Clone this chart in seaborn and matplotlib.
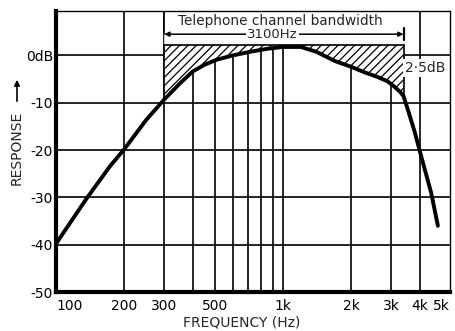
import matplotlib
matplotlib.use("Agg")
import matplotlib.pyplot as plt
import numpy as np
import pandas as pd
import seaborn as sns

# Frequency response of a telephone-type channel
freq_hz = [100, 137, 173, 200, 250, 300, 350, 400, 450, 510, 600, 720, 850,
           1000, 1200, 1400, 1700, 2000, 2300, 2600, 2900, 3100, 3300, 3400,
           3550, 3800, 4100, 4500, 4820]
response_db = [-39.8, -30.1, -23.4, -19.8, -13.6, -9.3, -6.0, -3.4, -2.0, -0.9,
               0.0, 0.8, 1.4, 1.8, 1.8, 0.8, -1.2, -2.4, -3.6, -4.5, -5.5, -6.6,
               -7.8, -8.6, -11.4, -16.0, -21.9, -29.0, -36.0]

x_tick_values = [100, 200, 300, 500, 1000, 2000, 3000, 4000, 5000]
x_tick_labels = ["100", "200", "300", "500", "1k", "2k", "3k", "4k", "5k"]
x_grid_values = [200, 300, 400, 500, 600, 700, 800, 900, 1000, 2000, 3000, 4000]
y_tick_values = [0, -10, -20, -30, -40, -50]
y_tick_labels = ["0dB", "-10", "-20", "-30", "-40", "-50"]
y_grid_values = [0, -10, -20, -30, -40]

band_low_hz = 300
band_high_hz = 3400
band_top_db = 2.25
band_label = "Telephone channel bandwidth"
band_width_label = "3100Hz"
ripple_label = "2·5dB"

sns.set_style("white")
plt.rcParams["font.family"] = ["DejaVu Sans"]
plt.rcParams["hatch.linewidth"] = 0.9

fig = plt.figure(figsize=(4.55, 3.31), dpi=100)
ax = fig.add_axes([56 / 455, 39 / 331, 394 / 455, 281 / 331])
ax.set_xscale("log")
ax.set_xlim(100, 5450)
ax.set_ylim(-50, 9.4)

# grid; the 0 dB line stops at the edges of the channel band
for gx in x_grid_values:
    ax.axvline(gx, color="black", lw=1.2, zorder=0.5)
for gy in y_grid_values:
    if gy == 0:
        ax.plot([100, band_low_hz], [gy, gy], color="black", lw=1.2, zorder=0.5)
        ax.plot([band_high_hz, 5450], [gy, gy], color="black", lw=1.2, zorder=0.5)
    else:
        ax.axhline(gy, color="black", lw=1.2, zorder=0.5)

df = pd.DataFrame({"freq": freq_hz, "db": response_db})
f = np.array(freq_hz, dtype=float)
r = np.array(response_db, dtype=float)
band = (f >= band_low_hz) & (f <= band_high_hz)

# clear area above the curve inside the band, then hatch the deviation region
ax.fill_between(f[band], r[band], 9.4, facecolor="white", edgecolor="none", zorder=1)
ax.fill_between(f[band], r[band], band_top_db, facecolor="white", edgecolor="black",
                hatch="////", lw=0, zorder=1.5)
r_lo = r[f == band_low_hz][0]
r_hi = r[f == band_high_hz][0]
ax.plot([band_low_hz, band_low_hz], [r_lo, band_top_db], color="black", lw=1.2, zorder=2)
ax.plot([band_high_hz, band_high_hz], [r_hi, band_top_db], color="black", lw=1.2, zorder=2)
ax.plot([band_low_hz, band_high_hz], [band_top_db, band_top_db], color="black", lw=1.2, zorder=2)

sns.lineplot(data=df, x="freq", y="db", ax=ax, color="black", lw=2.8, zorder=3)

# bandwidth annotation
ax.plot([band_low_hz, band_low_hz], [4.5, 9.4], color="black", lw=1.2, zorder=2)
ax.annotate("", xy=(band_low_hz, 4.5), xytext=(band_high_hz, 4.5),
            arrowprops=dict(arrowstyle="<|-|>", color="black", lw=1.1,
                            mutation_scale=7, shrinkA=0, shrinkB=0), zorder=3)
ax.plot([band_high_hz, band_high_hz], [3.3, 5.8], color="black", lw=1.6, zorder=3)
ax.text(900, 4.4, band_width_label, ha="center", va="center", fontsize=9.5,
        bbox=dict(facecolor="white", edgecolor="none", pad=0.6), zorder=4)
ax.text(970, 7.35, band_label, ha="center", va="center", fontsize=9.8, zorder=4)
ax.text(4230, -2.6, ripple_label, ha="center", va="center", fontsize=10,
        bbox=dict(facecolor="white", edgecolor="none", pad=1.5), zorder=4)

# axes and ticks
ax.set_xticks(x_tick_values)
ax.set_xticklabels(x_tick_labels)
ax.xaxis.set_minor_locator(matplotlib.ticker.NullLocator())
ax.set_yticks(y_tick_values)
ax.set_yticklabels(y_tick_labels)
ax.tick_params(axis="both", length=0, labelsize=10, colors="black")
ax.tick_params(axis="x", pad=5)
ax.tick_params(axis="y", pad=2)
ax.get_xticklabels()[0].set_ha("left")
ax.set_xlabel("")
ax.set_ylabel("")
for side in ["left", "bottom"]:
    ax.spines[side].set_linewidth(3.0)
    ax.spines[side].set_color("black")
for side in ["top", "right"]:
    ax.spines[side].set_visible(True)
    ax.spines[side].set_linewidth(1.0)
    ax.spines[side].set_color("black")

fig.text(242 / 455, 1 - 322 / 331, "FREQUENCY (Hz)", ha="center", va="center", fontsize=10)
fig.text(17 / 455, 1 - 148 / 331, "RESPONSE", ha="center", va="center",
         rotation=90, fontsize=10)
fig.add_artist(matplotlib.patches.FancyArrowPatch(
    (17 / 455, 1 - 104 / 331), (17 / 455, 1 - 77 / 331), transform=fig.transFigure,
    arrowstyle="-|>", mutation_scale=8, color="black", lw=1.2))

fig.savefig("out.png", dpi=100)
